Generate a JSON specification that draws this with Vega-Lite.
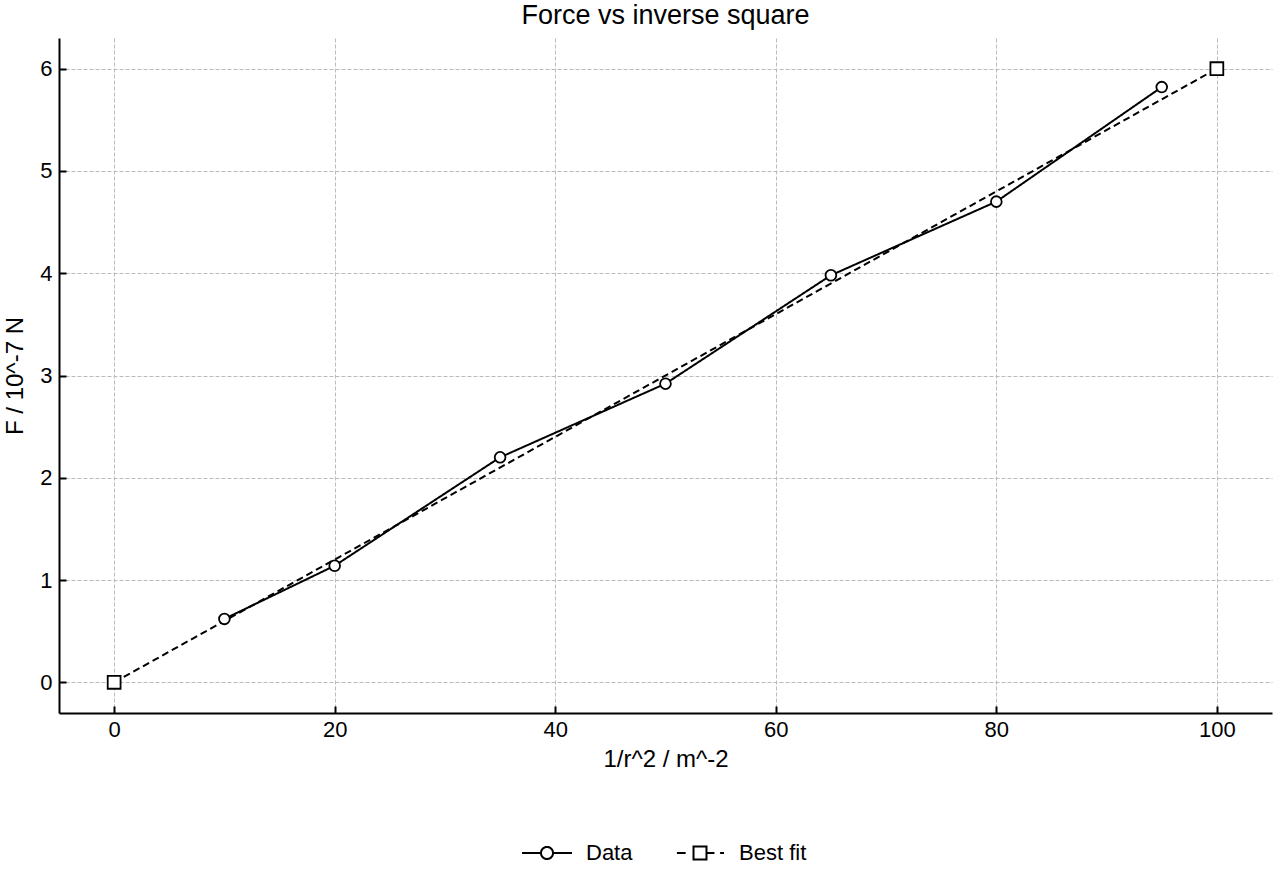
{
  "$schema": "https://vega.github.io/schema/vega-lite/v6.json",
  "autosize": "none",
  "width": 1213,
  "height": 675,
  "padding": {"left": 59, "top": 38, "right": 8, "bottom": 167},
  "background": "white",
  "title": {"text": "Force vs inverse square", "fontSize": 27, "font": "Liberation Sans", "fontWeight": "normal", "color": "black", "offset": 8, "anchor": "middle"},
  "config": {
    "view": {"stroke": null},
    "axis": {
      "labelFont": "Liberation Sans", "labelFontSize": 22, "labelColor": "black",
      "titleFont": "Liberation Sans", "titleFontSize": 24, "titleFontWeight": "normal", "titleColor": "black",
      "domainColor": "black", "domainWidth": 2,
      "tickColor": "black", "tickWidth": 2, "tickSize": -7,
      "grid": true, "gridColor": "#bbbbbb", "gridDash": [4, 2], "gridWidth": 1
    },
    "legend": {"labelFont": "Liberation Sans", "labelFontSize": 22, "labelColor": "black"}
  },
  "data": {"values": [
    {"x": 10, "y": 0.62, "series": "Data"},
    {"x": 20, "y": 1.14, "series": "Data"},
    {"x": 35, "y": 2.2, "series": "Data"},
    {"x": 50, "y": 2.92, "series": "Data"},
    {"x": 65, "y": 3.98, "series": "Data"},
    {"x": 80, "y": 4.7, "series": "Data"},
    {"x": 95, "y": 5.82, "series": "Data"},
    {"x": 0, "y": 0, "series": "Best fit"},
    {"x": 100, "y": 6, "series": "Best fit"}
  ]},
  "encoding": {
    "x": {"field": "x", "type": "quantitative", "scale": {"domain": [-5, 105], "nice": false, "zero": false},
      "axis": {"values": [0, 20, 40, 60, 80, 100], "title": "1/r^2 / m^-2", "labelPadding": 13, "titlePadding": 7}},
    "y": {"field": "y", "type": "quantitative", "scale": {"domain": [-0.3, 6.3], "nice": false, "zero": false},
      "axis": {"values": [0, 1, 2, 3, 4, 5, 6], "title": "F / 10^-7 N", "labelPadding": 14, "titlePadding": 12}}
  },
  "layer": [
    {
      "mark": {"type": "line", "color": "black", "strokeWidth": 2},
      "encoding": {
        "detail": {"field": "series"},
        "strokeDash": {"field": "series", "type": "nominal",
          "scale": {"domain": ["Data", "Best fit"], "range": [[1, 0], [7, 4]]},
          "legend": {
            "title": null, "orient": "none", "direction": "horizontal",
            "legendX": 463, "legendY": 790, "symbolSize": 2304, "symbolStrokeWidth": 2,
            "symbolStrokeColor": "black", "symbolFillColor": "white", "columnPadding": 40, "labelOffset": 14,
            "encode": {"symbols": {"update": {
              "shape": {"signal": "datum.value === 'Data' ? 'M-1,0L-0.25,0M0.25,0L1,0M0.25,0A0.25,0.25 0 1,1 -0.25,0A0.25,0.25 0 1,1 0.25,0Z' : 'M-0.92,0L-0.64,0M0.27,0L0.56,0M0.88,0L0.96,0M-0.27,-0.27L0,-0.27M0,-0.27L0.27,-0.27M0.27,-0.27L0.27,0M0.27,0L0.27,0.27M0.27,0.27L0,0.27M0,0.27L-0.27,0.27M-0.27,0.27L-0.27,0M-0.27,0L-0.27,-0.27'"},
              "fill": {"value": "white"}, "stroke": {"value": "black"}, "strokeCap": {"value": "square"}
            }}}
          }}
      }
    },
    {
      "transform": [{"filter": "datum.series === 'Data'"}],
      "mark": {"type": "point", "shape": "circle", "size": 115, "filled": false, "fill": "white", "fillOpacity": 1, "stroke": "black", "strokeWidth": 1.8, "opacity": 1}
    },
    {
      "transform": [{"filter": "datum.series === 'Best fit'"}],
      "mark": {"type": "point", "shape": "square", "size": 165, "filled": false, "fill": "white", "fillOpacity": 1, "stroke": "black", "strokeWidth": 1.8, "opacity": 1}
    }
  ]
}
